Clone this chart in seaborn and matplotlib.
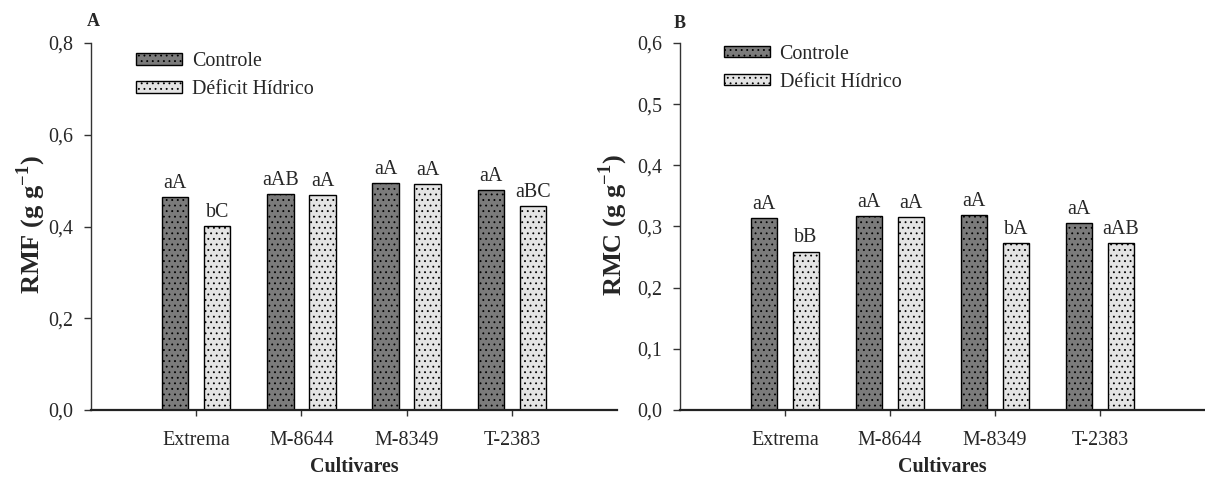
import matplotlib
matplotlib.use("Agg")
import matplotlib.pyplot as plt
from matplotlib.patches import Patch
import seaborn as sns
import pandas as pd

# ---------------- data ----------------
cultivars = ["Extrema", "M-8644", "M-8349", "T-2383"]
treatments = ["Controle", "Déficit Hídrico"]

rmf_controle = [0.464, 0.471, 0.494, 0.479]
rmf_deficit = [0.401, 0.469, 0.492, 0.445]
rmf_lab_controle = ["aA", "aAB", "aA", "aA"]
rmf_lab_deficit = ["bC", "aA", "aA", "aBC"]

rmc_controle = [0.314, 0.317, 0.318, 0.305]
rmc_deficit = [0.259, 0.316, 0.273, 0.273]
rmc_lab_controle = ["aA", "aA", "aA", "aA"]
rmc_lab_deficit = ["bB", "aA", "bA", "aAB"]

rmf_ticks = [0.0, 0.2, 0.4, 0.6, 0.8]
rmc_ticks = [0.0, 0.1, 0.2, 0.3, 0.4, 0.5, 0.6]

# ---------------- style ----------------
sns.set_style("ticks")
plt.rcParams["font.family"] = ["Liberation Serif", "DejaVu Serif"]
plt.rcParams["mathtext.fontset"] = "custom"
plt.rcParams["mathtext.rm"] = "Liberation Serif"
plt.rcParams["mathtext.bf"] = "Liberation Serif:bold"
plt.rcParams["hatch.linewidth"] = 0.6

C_CTRL = "#7b7b7b"
C_DEF = "#e4e4e4"
FS = 14.4
HATCH = "..."


def make_df(ctrl, defi):
    return pd.DataFrame({
        "Cultivar": cultivars * 2,
        "Tratamento": [treatments[0]] * 4 + [treatments[1]] * 4,
        "Valor": list(ctrl) + list(defi),
    })


def draw(ax, ctrl, defi, lab_c, lab_d, ticks, ylabel, leg_anchor):
    df = make_df(ctrl, defi)
    sns.barplot(data=df, x="Cultivar", y="Valor", hue="Tratamento",
                order=cultivars, hue_order=treatments,
                palette=[C_CTRL, C_DEF], width=0.8, gap=0.375,
                edgecolor="black", linewidth=1.0, saturation=1,
                errorbar=None, legend=False, ax=ax)
    for p in ax.patches:
        p.set_hatch(HATCH)
    ax.bar_label(ax.containers[0], labels=lab_c, padding=3, fontsize=FS)
    ax.bar_label(ax.containers[1], labels=lab_d, padding=3, fontsize=FS)

    ax.set_xlim(-1, 4)
    ax.set_ylim(ticks[0], ticks[-1])
    ax.set_yticks(ticks)
    ax.set_yticklabels([f"{t:.1f}".replace(".", ",") for t in ticks])
    ax.tick_params(axis="y", direction="out", length=5, width=1, pad=8,
                   labelsize=FS, color="#333333")
    ax.tick_params(axis="x", direction="out", length=4, width=1, pad=11,
                   labelsize=FS, color="#333333")
    for s in ["top", "right"]:
        ax.spines[s].set_visible(False)
    ax.spines["left"].set_linewidth(1.0)
    ax.spines["left"].set_color("#333333")
    ax.spines["bottom"].set_linewidth(1.6)
    ax.spines["bottom"].set_color("#222222")

    ax.set_xlabel("Cultivares", fontsize=FS, fontweight="bold", labelpad=5)
    ax.set_ylabel(ylabel, fontsize=19, fontweight="bold")
    ax.yaxis.label.set_va("center")

    handles = [Patch(facecolor=C_CTRL, edgecolor="black", hatch=HATCH, linewidth=1.0),
               Patch(facecolor=C_DEF, edgecolor="black", hatch=HATCH, linewidth=1.0)]
    ax.legend(handles, treatments, loc="upper left", bbox_to_anchor=leg_anchor,
              frameon=False, fontsize=FS, handlelength=2.3, handleheight=0.5,
              handletextpad=0.5, labelspacing=0.45, borderpad=0, borderaxespad=0)


fig = plt.figure(figsize=(12.05, 4.78), dpi=100)
H = 478.0
W = 1205.0
bottom = 1 - 410 / H
top = 1 - 43 / H
axA = fig.add_axes([91 / W, bottom, (617 - 91) / W, top - bottom])
axB = fig.add_axes([680 / W, bottom, (1205 - 680) / W, top - bottom])

draw(axA, rmf_controle, rmf_deficit, rmf_lab_controle, rmf_lab_deficit,
     rmf_ticks, r"RMF (g g$^{\mathbf{-1}}$)", (0.085, 0.975))
draw(axB, rmc_controle, rmc_deficit, rmc_lab_controle, rmc_lab_deficit,
     rmc_ticks, r"RMC (g g$^{\mathbf{-1}}$)", (0.083, 0.995))

axA.yaxis.set_label_coords(-0.113, 0.505)
axB.yaxis.set_label_coords(-0.128, 0.505)

fig.text(93 / W, 1 - 21 / H, "A", ha="center", va="center", fontsize=13, fontweight="bold")
fig.text(680 / W, 1 - 23 / H, "B", ha="center", va="center", fontsize=13, fontweight="bold")

fig.savefig("out.png", dpi=100)
